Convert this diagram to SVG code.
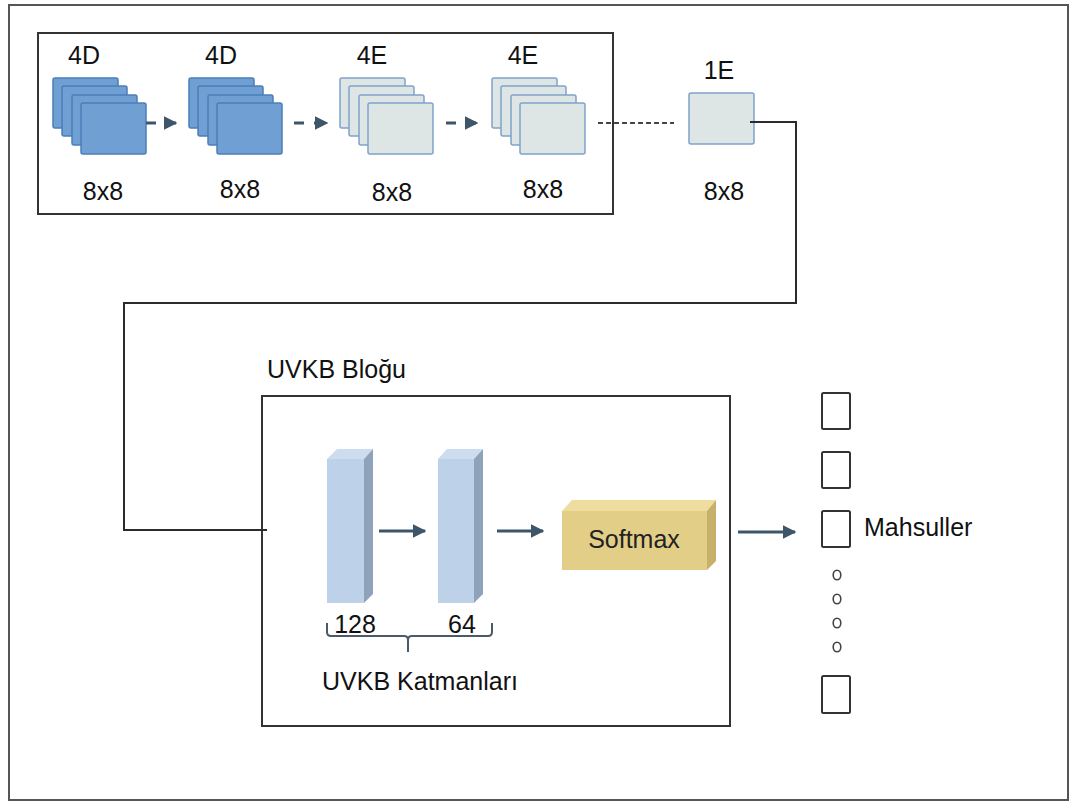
<svg xmlns="http://www.w3.org/2000/svg" width="1072" height="805" viewBox="0 0 1072 805">
  <defs>
    <style>
      text { font-family: "Liberation Sans", Arial, sans-serif; fill: #111; }
      .lbl { font-size: 25px; }
      .frame { fill: none; stroke: #333; stroke-width: 2; }
      .fmD { fill: #6f9fd3; stroke: #4d7db8; stroke-width: 1.5; }
      .fmE { fill: #dde5e5; stroke: #7fa2cc; stroke-width: 1.5; }
      .link { fill: none; stroke: #2b2b2b; stroke-width: 2; }
      .flow { stroke: #3e5669; stroke-width: 3; fill: none; }
      .dflow { stroke: #3e5669; stroke-width: 3; stroke-dasharray: 10 10; fill: none; }
      .outbox { fill: #fff; stroke: #333; stroke-width: 2; }
      .dot { fill: none; stroke: #444; stroke-width: 1.6; }
      .barF { fill: #bdd1e9; }
      .barT { fill: #cddcee; }
      .barS { fill: #8ea3b9; }
    </style>
    <marker id="head" viewBox="0 0 10 10" refX="9" refY="5" markerWidth="4.5" markerHeight="4.5" orient="auto" markerUnits="strokeWidth">
      <path d="M0,0 L10,5 L0,10 Z" fill="#3e5669"/>
    </marker>
    <g id="stack">
      <rect x="0" y="0" width="65" height="50" rx="2"/>
      <rect x="9" y="8" width="65" height="50" rx="2"/>
      <rect x="19" y="17" width="65" height="50" rx="2"/>
      <rect x="28" y="25" width="65" height="51" rx="2"/>
    </g>
  </defs>

  <!-- outer border -->
  <rect x="9" y="5" width="1059" height="795" fill="#fff" stroke="#555" stroke-width="2"/>

  <!-- feature map strip -->
  <rect x="38" y="33" width="575" height="181" class="frame"/>

  <g id="fm1">
    <use href="#stack" x="53" y="78" class="fmD"/>
    <text class="lbl" x="84" y="64" text-anchor="middle">4D</text>
    <text class="lbl" x="103" y="200" text-anchor="middle">8x8</text>
  </g>
  <g id="fm2">
    <use href="#stack" x="189" y="78" class="fmD"/>
    <text class="lbl" x="221" y="64" text-anchor="middle">4D</text>
    <text class="lbl" x="240" y="198" text-anchor="middle">8x8</text>
  </g>
  <g id="fm3">
    <use href="#stack" x="340" y="78" class="fmE"/>
    <text class="lbl" x="372" y="64" text-anchor="middle">4E</text>
    <text class="lbl" x="392" y="201" text-anchor="middle">8x8</text>
  </g>
  <g id="fm4">
    <use href="#stack" x="492" y="78" class="fmE"/>
    <text class="lbl" x="523" y="64" text-anchor="middle">4E</text>
    <text class="lbl" x="543" y="198" text-anchor="middle">8x8</text>
  </g>
  <g id="fm5">
    <rect x="689" y="93" width="65" height="51" rx="2" class="fmE"/>
    <text class="lbl" x="719" y="79" text-anchor="middle">1E</text>
    <text class="lbl" x="724" y="200" text-anchor="middle">8x8</text>
  </g>

  <!-- UVKB block -->
  <g id="uvkb">
    <text class="lbl" x="267" y="378">UVKB Bloğu</text>
    <rect x="262" y="396" width="468" height="330" class="frame"/>
  </g>

  <g id="dense128">
    <polygon class="barT" points="327,459 364,459 373,449 337,449"/>
    <polygon class="barS" points="364,459 373,449 373,594 364,603"/>
    <rect class="barF" x="327" y="459" width="37" height="144"/>
    <text class="lbl" x="355" y="633" text-anchor="middle">128</text>
  </g>
  <g id="dense64">
    <polygon class="barT" points="438,459 474,459 483,449 447,449"/>
    <polygon class="barS" points="474,459 483,449 483,594 474,603"/>
    <rect class="barF" x="438" y="459" width="36" height="144"/>
    <text class="lbl" x="462" y="633" text-anchor="middle">64</text>
  </g>
  <g id="layersBrace">
    <path d="M327,623 V632 Q327,636 331,636 H404 Q408,636 408,640 V652 M408,640 Q408,636 412,636 H488 Q492,636 492,632 V623" fill="none" stroke="#4a5a6b" stroke-width="2"/>
    <text class="lbl" x="420" y="690" text-anchor="middle">UVKB Katmanları</text>
  </g>

  <g id="softmax">
    <polygon points="562,511 707,511 716,500 572,500" fill="#eedd9f"/>
    <polygon points="707,511 716,500 716,561 707,570" fill="#c6b06a"/>
    <rect x="562" y="511" width="145" height="59" fill="#e3ce88"/>
    <text class="lbl" x="634" y="548" text-anchor="middle" style="fill:#222">Softmax</text>
  </g>

  <!-- output units -->
  <g id="outputs">
    <rect class="outbox" x="822" y="393" width="28" height="36" rx="1.5"/>
    <rect class="outbox" x="822" y="452" width="28" height="36" rx="1.5"/>
    <rect class="outbox" x="822" y="511" width="28" height="36" rx="1.5"/>
    <ellipse class="dot" cx="837" cy="575" rx="3.8" ry="4.8"/>
    <ellipse class="dot" cx="837" cy="599" rx="3.8" ry="4.8"/>
    <ellipse class="dot" cx="837" cy="623" rx="3.8" ry="4.8"/>
    <ellipse class="dot" cx="837" cy="647" rx="3.8" ry="4.8"/>
    <rect class="outbox" x="822" y="676" width="28" height="37" rx="1.5"/>
    <text class="lbl" x="864" y="536">Mahsuller</text>
  </g>

  <!-- connectors -->
  <g id="connectors">
    <line class="dflow" x1="146" y1="123" x2="176" y2="123" marker-end="url(#head)"/>
    <line class="dflow" x1="294" y1="123" x2="327" y2="123" stroke-dasharray="9 6" marker-end="url(#head)"/>
    <line class="dflow" x1="446" y1="123" x2="477" y2="123" marker-end="url(#head)"/>
    <line x1="598" y1="123" x2="674" y2="123" stroke="#444" stroke-width="2" stroke-dasharray="5 3"/>
    <polyline class="link" points="750,122 796,122 796,303 124,303 124,530 267,530"/>
    <line class="flow" x1="379" y1="531" x2="425" y2="531" marker-end="url(#head)"/>
    <line class="flow" x1="497" y1="531" x2="543" y2="531" marker-end="url(#head)"/>
    <line class="flow" x1="738" y1="532" x2="795" y2="532" marker-end="url(#head)"/>
  </g>
</svg>
